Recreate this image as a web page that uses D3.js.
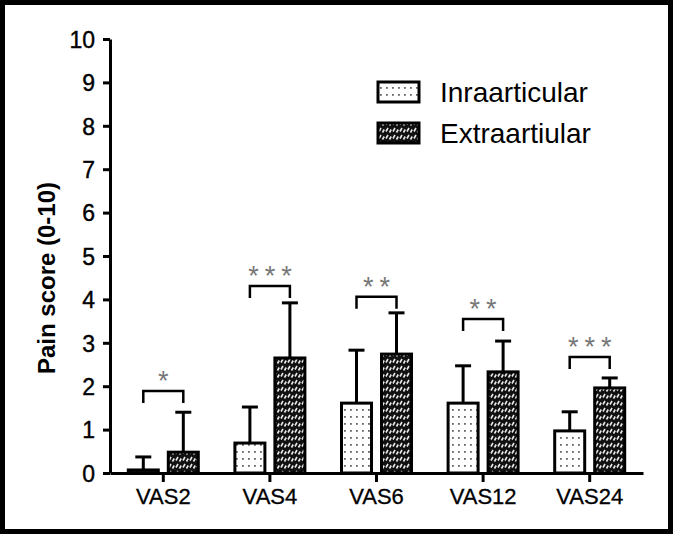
<!DOCTYPE html>
<html><head><meta charset="utf-8">
<script src="https://cdn.jsdelivr.net/npm/d3@7"></script>
<style>body{margin:0;background:#fff}svg{display:block}</style>
</head><body>
<svg id="c" width="673" height="535"></svg>
<script>
const categories = ["VAS2","VAS4","VAS6","VAS12","VAS24"];
const seriesNames = ["Inraarticular","Extraartiular"];
const intraMean = [0.07,0.69,1.61,1.61,0.97];
const intraErr  = [0.30,0.83,1.22,0.86,0.44];
const extraMean = [0.48,2.65,2.74,2.33,1.96];
const extraErr  = [0.92,1.27,0.95,0.71,0.23];
const sigLabels = ["*","***","**","**","***"];
const sigLevel  = [1.89,4.31,4.06,3.55,2.67];
const yTicks = [0,1,2,3,4,5,6,7,8,9,10];

const svg = d3.select("#c");
const defs = svg.append("defs");
const FONT = "Arial, Liberation Sans, sans-serif";
// dotted pattern (intra)
const p1 = defs.append("pattern").attr("id","dots").attr("patternUnits","userSpaceOnUse")
  .attr("width",6).attr("height",7);
p1.append("rect").attr("width",6).attr("height",7).attr("fill","#fff");
p1.append("rect").attr("x",2).attr("y",3).attr("width",1.8).attr("height",1.8).attr("fill","#666");
// dark speckled pattern (extra)
const p2 = defs.append("pattern").attr("id","dark").attr("patternUnits","userSpaceOnUse")
  .attr("width",7).attr("height",7);
p2.append("rect").attr("width",7).attr("height",7).attr("fill","#111");
p2.append("path").attr("d","M1,5.5 L3,2 M4.5,6.5 L6.2,3.5").attr("stroke","#e8e8e8").attr("stroke-width",1.6);

const x = d3.scaleBand().domain(categories).range([110,643]);
const y = d3.scaleLinear().domain([0,10]).range([473,39]);
const barW = 30, off = 20;

// frame
svg.append("rect").attr("x",2.5).attr("y",2.5).attr("width",668).attr("height",529)
  .attr("fill","none").attr("stroke","#000").attr("stroke-width",5);

// y axis
const ya = svg.append("g").attr("transform","translate(110,0)")
  .call(d3.axisLeft(y).tickValues(yTicks).tickSize(7).tickPadding(8).tickSizeOuter(0));
ya.select(".domain").attr("stroke-width",3).attr("stroke","#000");
ya.selectAll(".tick line").attr("stroke-width",3);
ya.selectAll(".tick text").attr("font-family",FONT)
  .attr("font-size",23).attr("fill","#000").attr("stroke","#000").attr("stroke-width",0.4)
  .attr("dy","0.36em");

// x axis
const xa = svg.append("g").attr("transform","translate(0,473)")
  .call(d3.axisBottom(x).tickSize(9).tickPadding(6).tickSizeOuter(0));
xa.select(".domain").attr("stroke-width",3).attr("stroke","#000");
xa.selectAll(".tick line").attr("stroke-width",3);
xa.selectAll(".tick text").attr("font-family",FONT)
  .attr("font-size",22).attr("fill","#000").attr("stroke","#000").attr("stroke-width",0.3);

// y label
svg.append("text").attr("transform","translate(55,278) rotate(-90)")
  .attr("text-anchor","middle").attr("font-family",FONT)
  .attr("font-weight","bold").attr("font-size",24).attr("fill","#000").text("Pain score (0-10)");

const cx = c => x(c) + x.bandwidth()/2;
const series = [
  {mean:intraMean, err:intraErr, dx:-off, fill:"url(#dots)"},
  {mean:extraMean, err:extraErr, dx:off, fill:"url(#dark)"}
];
series.forEach(s => {
  const g = svg.append("g");
  categories.forEach((c,i) => {
    const bx = cx(c) + s.dx;
    const top = y(s.mean[i] + s.err[i]);
    g.append("line").attr("x1",bx).attr("x2",bx).attr("y1",y(s.mean[i])).attr("y2",top)
      .attr("stroke","#000").attr("stroke-width",3);
    g.append("line").attr("x1",bx-8).attr("x2",bx+8).attr("y1",top).attr("y2",top)
      .attr("stroke","#000").attr("stroke-width",3);
    g.append("rect").attr("x",bx-barW/2).attr("y",y(s.mean[i]))
      .attr("width",barW).attr("height",y(0)-y(s.mean[i]))
      .attr("fill",s.fill).attr("stroke","#000").attr("stroke-width",3);
  });
});

// significance brackets
categories.forEach((c,i) => {
  const x1 = cx(c)-off, x2 = cx(c)+off, yy = y(sigLevel[i]);
  svg.append("path").attr("d",`M${x1},${yy+12}V${yy}H${x2}V${yy+12}`)
    .attr("fill","none").attr("stroke","#000").attr("stroke-width",2.5);
  svg.append("text").attr("x",cx(c)+3).attr("y",yy-1).attr("text-anchor","middle")
    .attr("font-family",FONT).attr("font-size",27)
    .attr("letter-spacing",6).attr("fill","#777").text(sigLabels[i]);
});

// legend
const lg = svg.append("g");
const lfill = ["url(#dots)","url(#dark)"];
seriesNames.forEach((n,i) => {
  const ly = 82 + i*41;
  lg.append("rect").attr("x",378).attr("y",ly).attr("width",41).attr("height",20)
    .attr("fill",lfill[i]).attr("stroke","#000").attr("stroke-width",3);
  lg.append("text").attr("x",440).attr("y",ly+20).attr("font-family",FONT)
    .attr("font-size",28).attr("fill","#000").text(n);
});
</script>
</body></html>
